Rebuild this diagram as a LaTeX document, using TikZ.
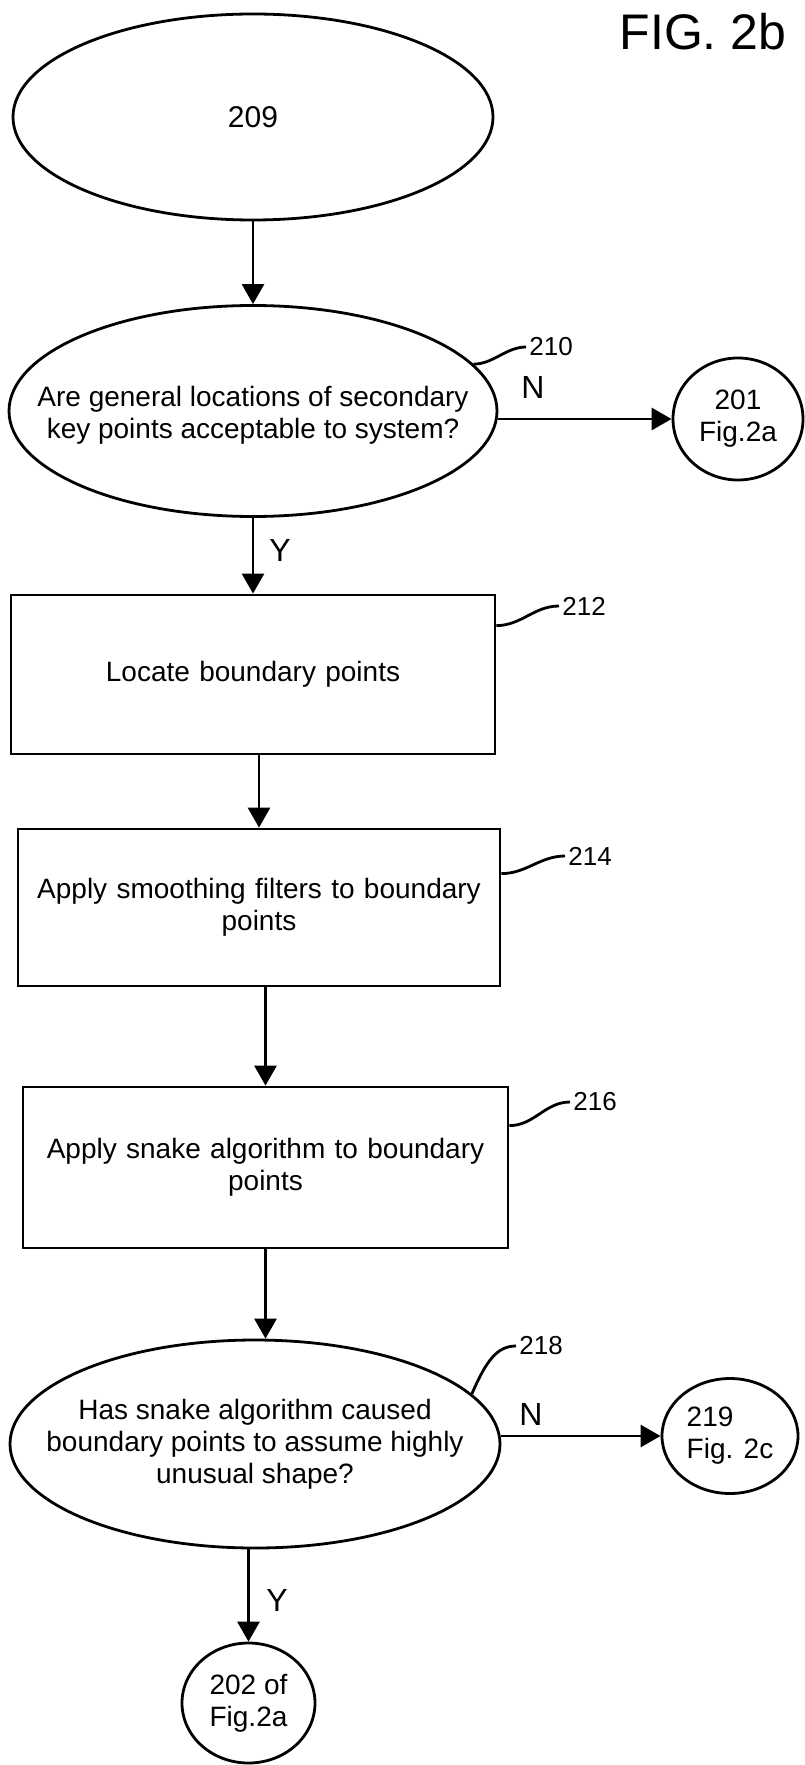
\documentclass[tikz,border=0pt]{standalone}
\usepackage{fontspec}
\setmainfont{Liberation Sans}
\usetikzlibrary{arrows.meta,shapes.geometric}

\begin{document}
\begin{tikzpicture}[x=0.5pt,y=-0.5pt,line width=1.4pt,
  decision/.style={draw,ellipse,inner sep=0pt},
  linkcirc/.style={draw,ellipse,inner sep=0pt,align=center,font=\fontsize{14}{16}\selectfont},
  stepbox/.style={draw,rectangle,inner sep=0pt,text width=230pt,align=center,font=\fontsize{14}{16}\selectfont},
  qtext/.style={align=center,font=\fontsize{14}{16}\selectfont},
  yn/.style={font=\fontsize{16}{18}\selectfont},
  refnum/.style={anchor=west,inner sep=1pt,font=\fontsize{13}{15}\selectfont},
  flow/.style={-{Triangle[length=10pt,width=11pt]}}]
\useasboundingbox (0,0) rectangle (804,1765);
% Title
\node[font=\fontsize{25}{30}\selectfont] (fig) at (703,32) {FIG. 2b};
% Start
\node[decision,minimum width=240pt,minimum height=103pt,font=\fontsize{15}{18}\selectfont] (s209) at (253,117) {209};
% First check
\node[decision,minimum width=244pt,minimum height=105.5pt] (q210) at (253,411) {};
\node[qtext] (t210) at (253,415) {Are general locations of secondary\\key points acceptable to system?};
\node[linkcirc,minimum width=65pt,minimum height=61pt] (c201) at (738,419) {201\\Fig.2a};
% Steps
\node[stepbox,minimum width=242pt,minimum height=79.5pt] (b212) at (253,674.5) {Locate boundary points};
\node[stepbox,minimum width=241pt,minimum height=78.5pt] (b214) at (259,907.5) {Apply smoothing filters to boundary\\points};
\node[stepbox,minimum width=242.5pt,minimum height=80.5pt] (b216) at (265.5,1167.5) {Apply snake algorithm to boundary\\points};
% Second check
\node[decision,minimum width=245pt,minimum height=104pt] (q218) at (255,1444) {};
\node[qtext] (t218) at (255,1444) {Has snake algorithm caused\\boundary points to assume highly\\unusual shape?};
\node[linkcirc,align=left,minimum width=68pt,minimum height=57.5pt] (c219) at (730,1436) {219\\Fig. 2c};
\node[linkcirc,minimum width=66.5pt,minimum height=60pt] (c202) at (248.5,1703) {202 of\\Fig.2a};
% Connectors
\draw[flow] (s209) -- (q210);
\draw[flow] (q210) -- (b212);
\draw[flow] (c201.west -| q210.east) -- (c201.west);
\draw[flow] (b214.north |- b212.south) -- (b214.north);
\draw[flow] (b216.north |- b214.south) -- (b216.north);
\draw[flow] (b216.south) -- (b216.south |- q218.north);
\draw[flow] (c219.west -| q218.east) -- (c219.west);
\draw[flow] (c202.north |- q218.south) -- (c202.north);
% Y / N
\node[yn] (y210) at (280,550) {Y};
\node[yn] (n210) at (533,387) {N};
\node[yn] (y218) at (277,1600) {Y};
\node[yn] (n218) at (531,1414) {N};
% Reference numbers
\node[refnum] (r210) at (526,347) {210};
\node[refnum] (r212) at (559,606) {212};
\node[refnum] (r214) at (565,856) {214};
\node[refnum] (r216) at (570,1102) {216};
\node[refnum] (r218) at (516,1346) {218};
\draw (q210.12) .. controls +(20,0) and +(-20,0) .. (r210.west);
\draw ([yshift=-16pt]b212.north east) .. controls +(25,0) and +(-25,0) .. (r212.west);
\draw ([yshift=-23pt]b214.north east) .. controls +(25,0) and +(-25,0) .. (r214.west);
\draw ([yshift=-20pt]b216.north east) .. controls +(25,0) and +(-25,0) .. (r216.west);
\draw (q218.13) .. controls +(15,-35) and +(-18,0) .. (r218.west);
\end{tikzpicture}
\end{document}
